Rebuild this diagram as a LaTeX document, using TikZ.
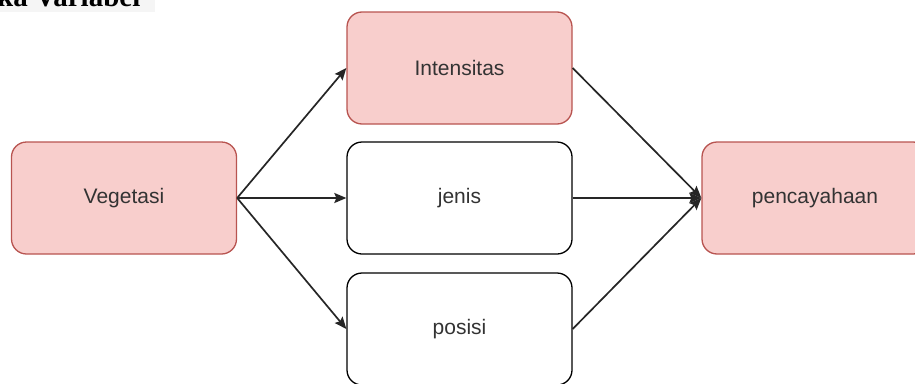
\documentclass[tikz,border=0pt]{standalone}
\usepackage{fontspec}
\setmainfont{Liberation Serif}
\newfontfamily\boxfont{Liberation Sans}
\usetikzlibrary{arrows.meta}
\definecolor{pinkfill}{HTML}{F8CECC}
\definecolor{pinkline}{HTML}{B85450}
\definecolor{txt}{HTML}{333333}
\begin{document}
\begin{tikzpicture}[x=1pt,y=-1pt,
  box/.style={rectangle, rounded corners=15pt, draw=black, line width=1.3pt, fill=white,
    minimum width=225pt, minimum height=112pt, inner sep=0pt,
    font=\boxfont\fontsize{21}{25}\selectfont, text=txt},
  pinkbox/.style={box, draw=pinkline, fill=pinkfill},
  conn/.style={draw=black!85, line width=1.7pt, -{Stealth[length=12pt,width=10pt,inset=2pt]}}]
\useasboundingbox (0,0) rectangle (915,383);
\clip (0,0) rectangle (915,383);
\fill[black!4] (0,0) rectangle (155,12);
\node[anchor=base west, inner sep=0pt, font=\bfseries\fontsize{29}{32}\selectfont] (hdr) at (-3,6) {ka Variabel};
\node[pinkbox] (veg) at (124,198) {Vegetasi};
\node[pinkbox] (int) at (459.5,68) {Intensitas};
\node[box] (jen) at (459.5,198) {jenis};
\node[box] (pos) at (459.5,329) {posisi};
\node[pinkbox, minimum width=226pt] (pen) at (815,198) {pencayahaan};
\draw[conn] (veg.east) -- (int.west);
\draw[conn] (veg.east) -- (jen.west);
\draw[conn] (veg.east) -- (pos.west);
\draw[conn] (int.east) -- (pen.west);
\draw[conn] (jen.east) -- (pen.west);
\draw[conn] (pos.east) -- (pen.west);
\end{tikzpicture}
\end{document}
